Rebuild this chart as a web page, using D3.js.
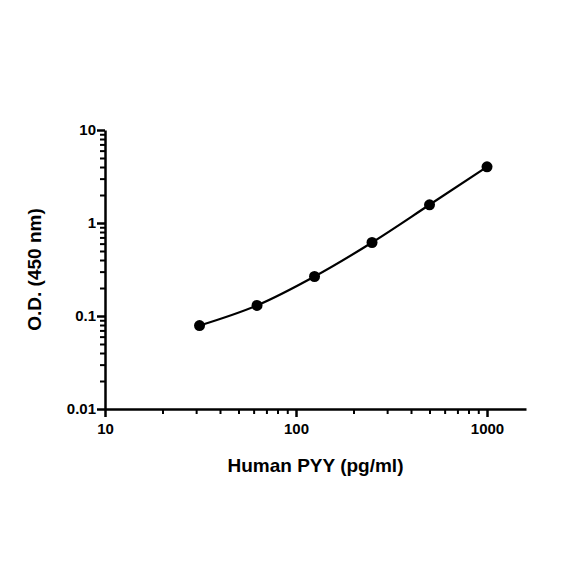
<!DOCTYPE html>
<html>
<head>
<meta charset="utf-8">
<script src="https://cdn.jsdelivr.net/npm/d3@7"></script>
<style>
  body { margin: 0; background: #fff; }
  text { font-family: "Liberation Sans", Arial, sans-serif; font-weight: bold; fill: #000; }
</style>
</head>
<body>
<svg id="chart" width="584" height="584"></svg>
<script>
var concentrations = [31.25, 62.5, 125, 250, 500, 1000];
var odValues = [0.079, 0.13, 0.266, 0.617, 1.57, 4.02];
var xTicks = [10, 100, 1000];
var yTicks = [0.01, 0.1, 1, 10];

var svg = d3.select("#chart");
var plotLeft = 105, plotRight = 526, plotTop = 130, plotBottom = 409;

var x = d3.scaleLog().domain([10, 1600]).range([plotLeft, plotRight]);
var y = d3.scaleLog().domain([0.01, 10]).range([plotBottom, plotTop]);

function minors(lo, hi) {
  var out = [];
  for (var d = lo; d < hi; d *= 10)
    for (var k = 2; k <= 9; k++) if (d * k < hi) out.push(d * k);
  return out;
}

// minor ticks
svg.append("g").attr("transform", "translate(0," + plotBottom + ")")
  .call(d3.axisBottom(x).tickValues(minors(10, 1600)).tickSize(5).tickFormat(""))
  .call(function(g){ g.select(".domain").remove(); g.selectAll("line").attr("stroke-width", 2); });
svg.append("g").attr("transform", "translate(" + plotLeft + ",0)")
  .call(d3.axisLeft(y).tickValues(minors(0.01, 10)).tickSize(5).tickFormat(""))
  .call(function(g){ g.select(".domain").remove(); g.selectAll("line").attr("stroke-width", 2); });

// major axes
svg.append("g").attr("transform", "translate(0," + plotBottom + ")")
  .call(d3.axisBottom(x).tickValues(xTicks).tickSize(8).tickSizeOuter(0).tickFormat(d3.format("d")))
  .call(function(g){
    g.select(".domain").attr("stroke-width", 2.5);
    g.selectAll("line").attr("stroke-width", 2.5);
    g.selectAll("text").style("font-size", "15px").attr("y", 14);
  });
svg.append("g").attr("transform", "translate(" + plotLeft + ",0)")
  .call(d3.axisLeft(y).tickValues(yTicks).tickSize(8).tickSizeOuter(0).tickFormat(function(d){ return String(d); }))
  .call(function(g){
    g.select(".domain").attr("stroke-width", 2.5);
    g.selectAll("line").attr("stroke-width", 2.5);
    g.selectAll("text").style("font-size", "15px").attr("x", -9);
  });

var pts = concentrations.map(function(c, i){ return [c, odValues[i]]; });

svg.append("path").datum(pts)
  .attr("fill", "none").attr("stroke", "#000").attr("stroke-width", 2.2)
  .attr("d", d3.line().curve(d3.curveMonotoneX)
    .x(function(d){ return x(d[0]); }).y(function(d){ return y(d[1]); }));

svg.selectAll("circle").data(pts).enter().append("circle")
  .attr("cx", function(d){ return x(d[0]); })
  .attr("cy", function(d){ return y(d[1]); })
  .attr("r", 5.5).attr("fill", "#000");

svg.append("text").attr("x", (plotLeft + plotRight) / 2).attr("y", 472)
  .attr("text-anchor", "middle").style("font-size", "19px").text("Human PYY (pg/ml)");
svg.append("text").attr("transform", "translate(41," + ((plotTop + plotBottom) / 2) + ") rotate(-90)")
  .attr("text-anchor", "middle").style("font-size", "19px").text("O.D. (450 nm)");
</script>
</body>
</html>
